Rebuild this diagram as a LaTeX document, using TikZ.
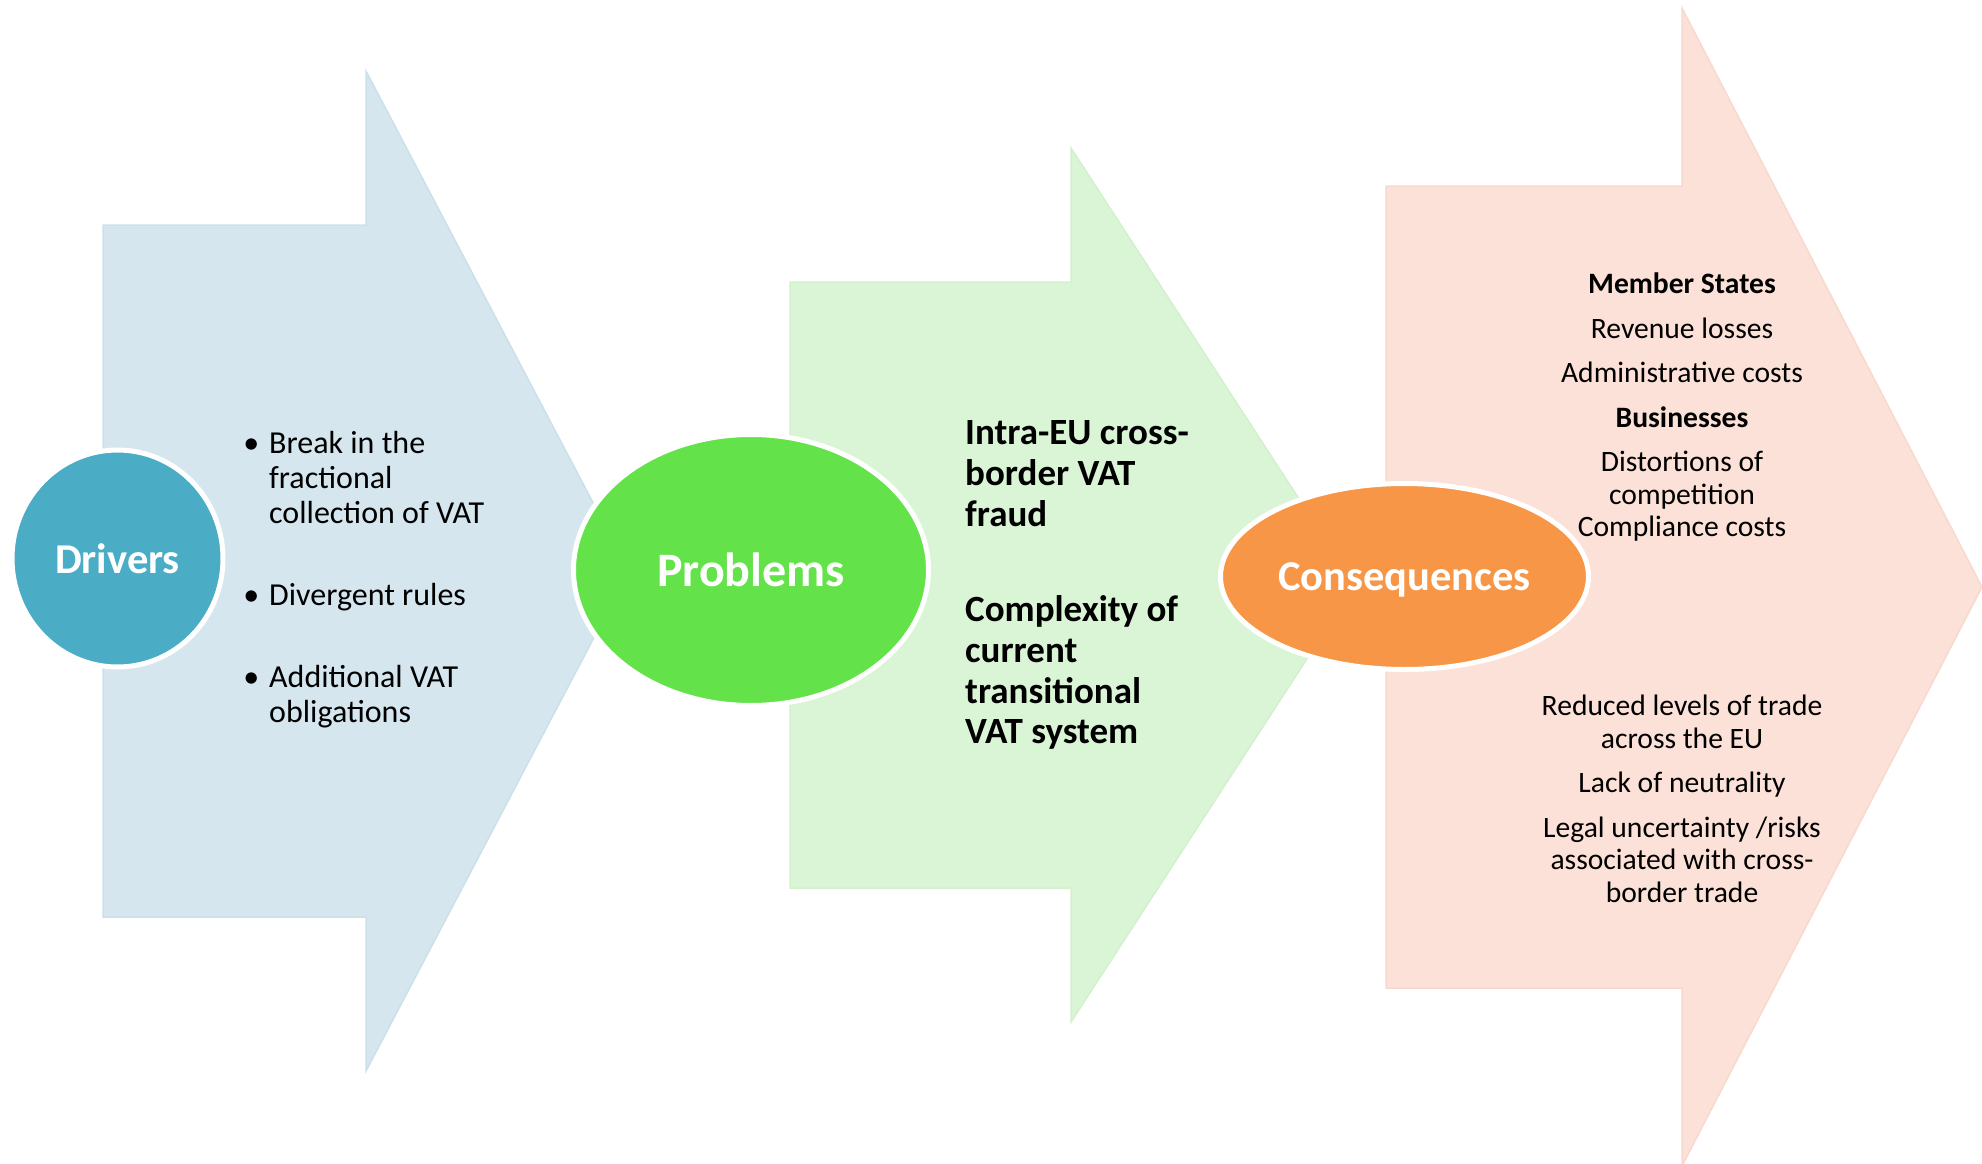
\documentclass[tikz,border=0pt]{standalone}
\usepackage{fontspec}
\setmainfont{Carlito}
\usetikzlibrary{shapes.geometric}

\definecolor{drvback}{HTML}{D5E6EE}
\definecolor{drvedge}{HTML}{CCE0E9}
\definecolor{drvfill}{HTML}{4BACC6}
\definecolor{prbback}{HTML}{DAF5D5}
\definecolor{prbedge}{HTML}{D2F1CC}
\definecolor{prbfill}{HTML}{63E24A}
\definecolor{cnsback}{HTML}{FBE1D7}
\definecolor{cnsedge}{HTML}{F8D9CD}
\definecolor{cnsfill}{HTML}{F79646}

\begin{document}
\begin{tikzpicture}[x=1pt,y=-1pt,
		chevron/.style={line width=1.5pt, line join=miter},
		bubble/.style={ellipse, draw=white, line width=5pt, text=white, inner sep=0pt, text depth=0pt},
		blocktext/.style={inner sep=0pt, execute at begin node=\strut, execute at end node=\strut}]
	\useasboundingbox (0,0) rectangle (1982,1164);

	% big chevrons behind everything
	\draw[chevron, fill=drvback, draw=drvedge] (103,225) -- (366,225) -- (366,71) -- (629,571)
		-- (366,1071) -- (366,917) -- (103,917) -- cycle;
	\draw[chevron, fill=prbback, draw=prbedge] (790,282) -- (1071,282) -- (1071,148) -- (1355,585)
		-- (1071,1022) -- (1071,888) -- (790,888) -- cycle;
	\draw[chevron, fill=cnsback, draw=cnsedge] (1386,186) -- (1682,186) -- (1682,8) -- (1982,587)
		-- (1682,1166) -- (1682,988) -- (1386,988) -- cycle;

	% the three bubbles
	\node[bubble, fill=drvfill, minimum width=211pt, minimum height=217pt,
		font=\fontsize{42.5}{50}\selectfont\bfseries] (drv) at (117.5,558.5) {Drivers};
	\node[bubble, fill=prbfill, minimum width=355pt, minimum height=271pt,
		font=\fontsize{48}{56}\selectfont\bfseries] (prb) at (751,570) {Problems};
	\node[bubble, fill=cnsfill, minimum width=368pt, minimum height=186pt,
		font=\fontsize{42.5}{50}\selectfont\bfseries] (cns) at (1404.5,576.5) {Consequences};

	% texts
	\node[blocktext, anchor=north west, align=left, font=\fontsize{32}{35}\selectfont] (drvlist) at (269,431)
		{\llap{\textbullet\hspace{10pt}}Break in the\\fractional\\collection of VAT\\[47pt]
		\llap{\textbullet\hspace{10pt}}Divergent rules\\[47pt]
		\llap{\textbullet\hspace{10pt}}Additional VAT\\obligations};
	\node[blocktext, anchor=north west, align=left, font=\fontsize{37}{40.7}\selectfont\bfseries] (prblist) at (965,420.5)
		{Intra-EU cross-\\border VAT\\fraud\\[55pt]
		Complexity of\\current\\transitional\\VAT system};
	\node[blocktext, anchor=north, align=center, font=\fontsize{29.6}{32.5}\selectfont] (cnsupper) at (1682,273)
		{\textbf{Member States}\\[12pt]Revenue losses\\[12pt]Administrative costs\\[12pt]
		\textbf{Businesses}\\[12pt]Distortions of\\competition\\Compliance costs};
	\node[blocktext, anchor=north, align=center, font=\fontsize{29.6}{32.5}\selectfont] (cnslower) at (1682,695)
		{Reduced levels of trade\\across the EU\\[12pt]Lack of neutrality\\[12pt]
		Legal uncertainty /risks\\associated with cross-\\border trade};
\end{tikzpicture}
\end{document}
